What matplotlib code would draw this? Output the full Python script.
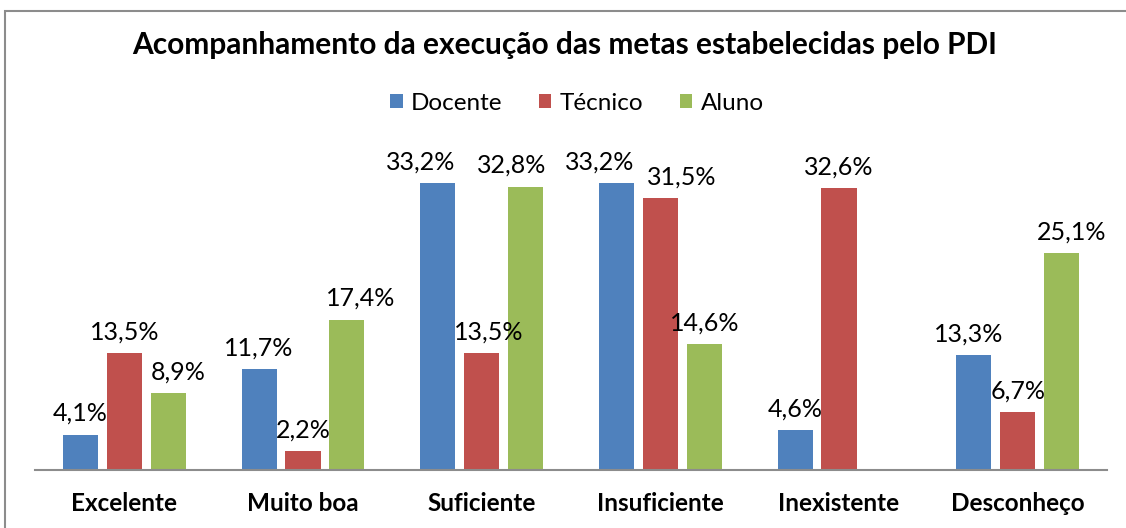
import matplotlib
matplotlib.use("Agg")
import matplotlib.pyplot as plt
from matplotlib.patches import Rectangle
import numpy as np

categories = ["Excelente", "Muito boa", "Suficiente", "Insuficiente", "Inexistente", "Desconheço"]
series_names = ["Docente", "Técnico", "Aluno"]
docente = [4.1, 11.7, 33.2, 33.2, 4.6, 13.3]
tecnico = [13.5, 2.2, 13.5, 31.5, 32.6, 6.7]
aluno = [8.9, 17.4, 32.8, 14.6, None, 25.1]
colors = ["#4F81BD", "#C0504D", "#9BBB59"]

# horizontal label nudges in pixels (series index, category index) -> dx
label_dx = {(0, 2): -17, (1, 2): 7, (2, 2): -14,
            (0, 3): -17, (1, 3): 21,
            (2, 0): 10, (2, 1): 14, (0, 5): -5, (2, 5): 10}

plt.rcParams['font.family'] = ['Lato', 'DejaVu Sans']

W, H = 1126, 528
fig = plt.figure(figsize=(W / 100, H / 100), dpi=100)

# outer border
fig.patches.append(Rectangle((5 / W, -0.05), 1.2, 1 - 11 / H + 0.05, transform=fig.transFigure,
                             fill=False, edgecolor="#8C8C8C", linewidth=1.5))

ax = fig.add_axes([35 / W, 1 - 470 / H, (1107 - 35) / W, (470 - 159) / H])
x = np.arange(len(categories))
bw = 0.196
step = 0.246
all_series = [docente, tecnico, aluno]
for i, (name, vals, col) in enumerate(zip(series_names, all_series, colors)):
    xs = x + (i - 1) * step
    hv = [v if v is not None else 0 for v in vals]
    ax.bar(xs, hv, width=bw, color=col, label=name, zorder=2)
    for j, (xi, v) in enumerate(zip(xs, vals)):
        if v is None:
            continue
        dx = label_dx.get((i, j), 0) * 0.72
        ax.annotate(f"{v:.1f}%".replace(".", ","), (xi, v), xytext=(dx, 7),
                    textcoords="offset points", ha="center", va="bottom",
                    fontsize=18, color="#000000", zorder=3)

ax.set_xlim(-0.5, len(categories) - 0.5)
ax.set_ylim(0, 36)
for s in ["top", "right", "left"]:
    ax.spines[s].set_visible(False)
ax.spines["bottom"].set_color("#8C8C8C")
ax.spines["bottom"].set_linewidth(1.5)
ax.set_yticks([])
ax.set_xticks(x)
ax.set_xticklabels(categories, fontsize=17.5, fontweight="bold")
ax.tick_params(axis="x", length=0, pad=16)

fig.text(565 / W, 1 - 45 / H, "Acompanhamento da execução das metas estabelecidas pelo PDI",
         ha="center", va="center", fontsize=21.5, fontweight="bold")

handles, labels = ax.get_legend_handles_labels()
fig.legend(handles, labels, loc="center", bbox_to_anchor=(577 / W, 1 - 103 / H), ncol=3,
           frameon=False, fontsize=17.5, handlelength=0.5, handleheight=0.5,
           handletextpad=0.35, columnspacing=1.5)

fig.savefig("out.png", dpi=100)
